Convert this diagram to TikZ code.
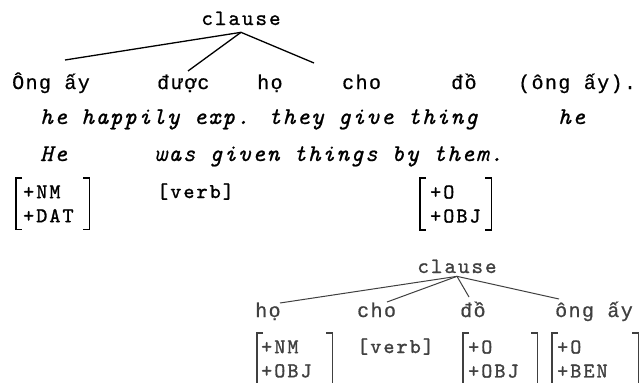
\documentclass[tikz,border=0pt]{standalone}
\usepackage{fontspec}
% typewriter faces: a sans mono for the Vietnamese words, Latin Modern Mono for glosses and features
\newfontfamily\vnfont[LetterSpace=7, FakeBold=0.6]{Liberation Mono}
\newfontfamily\featfont[Extension=.otf, UprightFont=*-regular, ItalicFont=*-italic, LetterSpace=10, FakeBold=1.4]{lmmono10}
\newfontfamily\glossfont[Extension=.otf, UprightFont=*-regular, ItalicFont=*-italic, LetterSpace=7, FakeBold=0.8]{lmmono10}
\newfontfamily\catfont[Extension=.otf, UprightFont=*-regular, LetterSpace=9, FakeBold=1.0]{lmmono10}

\tikzset{
  vn/.style={font=\fontsize{20}{24}\selectfont\vnfont, anchor=base west, inner sep=0pt},
  gloss/.style={font=\fontsize{24}{28}\selectfont\glossfont\itshape, anchor=base west, inner sep=0pt},
  featword/.style={font=\fontsize{21}{24}\selectfont\featfont, anchor=base west, inner sep=0pt},
  featbox/.style={font=\fontsize{21}{24}\selectfont\featfont, align=left, anchor=north west,
                  inner ysep=7.2pt},
  cat/.style={font=\fontsize{22}{26}\selectfont\catfont, anchor=base},
  tree/.style={line width=1.3pt},
  brk/.style={line width=1.4pt},
  faint/.style={text=black!75, draw=black!75},
}
% square brackets around a two-line feature matrix
\newcommand\featbrackets[2][]{%
  \draw[brk,#1] ([xshift=6pt]#2.north west) -| (#2.south west) -- ([xshift=6pt]#2.south west);
  \draw[brk,#1] ([xshift=-6pt]#2.north east) -| (#2.south east) -- ([xshift=-6pt]#2.south east);}

\begin{document}
\begin{tikzpicture}[x=1pt, y=-1pt]
\useasboundingbox[fill=white] (0,0) rectangle (643,383);

% --- surface clause ---
\node[cat, inner xsep=0pt, inner ysep=7pt] (clause) at (241,25) {clause};
\coordinate (e1) at (65,60);
\coordinate (e2) at (188,71);
\coordinate (e3) at (314,63);
\draw[tree] (clause.south) -- (e1);
\draw[tree] (clause.south) -- (e2);
\draw[tree] (clause.south) -- (e3);

\node[vn] (w1) at (12,89)  {Ông ấy};
\node[vn] (w2) at (157,89) {được};
\node[vn] (w3) at (257,89) {họ};
\node[vn] (w4) at (342,89) {cho};
\node[vn] (w5) at (451,89) {đồ};
\node[vn] (w6) at (518,89) {(ông ấy).};

\node[gloss] (g1) at (40,124)  {he happily exp. they give thing};
\node[gloss] (g2) at (558,124) {he};
\node[gloss] (t1) at (40,161)  {He};
\node[gloss] (t2) at (154,161) {was given things by them.};

\node[featbox, inner xsep=7pt, text width=59pt] (f1) at (16,178) {+NM\\+DAT};
\node[featword] (f2) at (157,198) {[verb]};
\node[featbox, inner xsep=10pt, text width=51pt] (f3) at (420,178) {+O\\+OBJ};
\featbrackets{f1}
\featbrackets{f3}

% --- underlying clause ---
\begin{scope}[faint]
\node[cat, inner xsep=0pt, inner ysep=3pt] (clause2) at (457,273) {clause};
\coordinate (d1) at (280,303);
\coordinate (d2) at (387,302);
\coordinate (d3) at (469,297);
\coordinate (d4) at (559,299);
\draw[line width=1pt] (clause2.south) -- (d1);
\draw[line width=1pt] (clause2.south) -- (d2);
\draw[line width=1pt] (clause2.south) -- (d3);
\draw[line width=1pt] (clause2.south) -- (d4);

\node[vn] (u1) at (255,317) {họ};
\node[vn] (u2) at (357,317) {cho};
\node[vn] (u3) at (460,317) {đồ};
\node[vn] (u4) at (555,317) {ông ấy};

\node[featbox, inner xsep=4pt, text width=67pt] (h1) at (257,333) {+NM\\+OBJ};
\node[featword] (h2) at (357,353) {[verb]};
\node[featbox, inner xsep=5pt, text width=64pt] (h3) at (463,333) {+O\\+OBJ};
\node[featbox, inner xsep=5pt, text width=76pt] (h4) at (552,333) {+O\\+BEN};
\featbrackets[line width=1.1pt]{h1}
\featbrackets[line width=1.1pt]{h3}
\featbrackets[line width=1.1pt]{h4}
\end{scope}
\end{tikzpicture}
\end{document}
